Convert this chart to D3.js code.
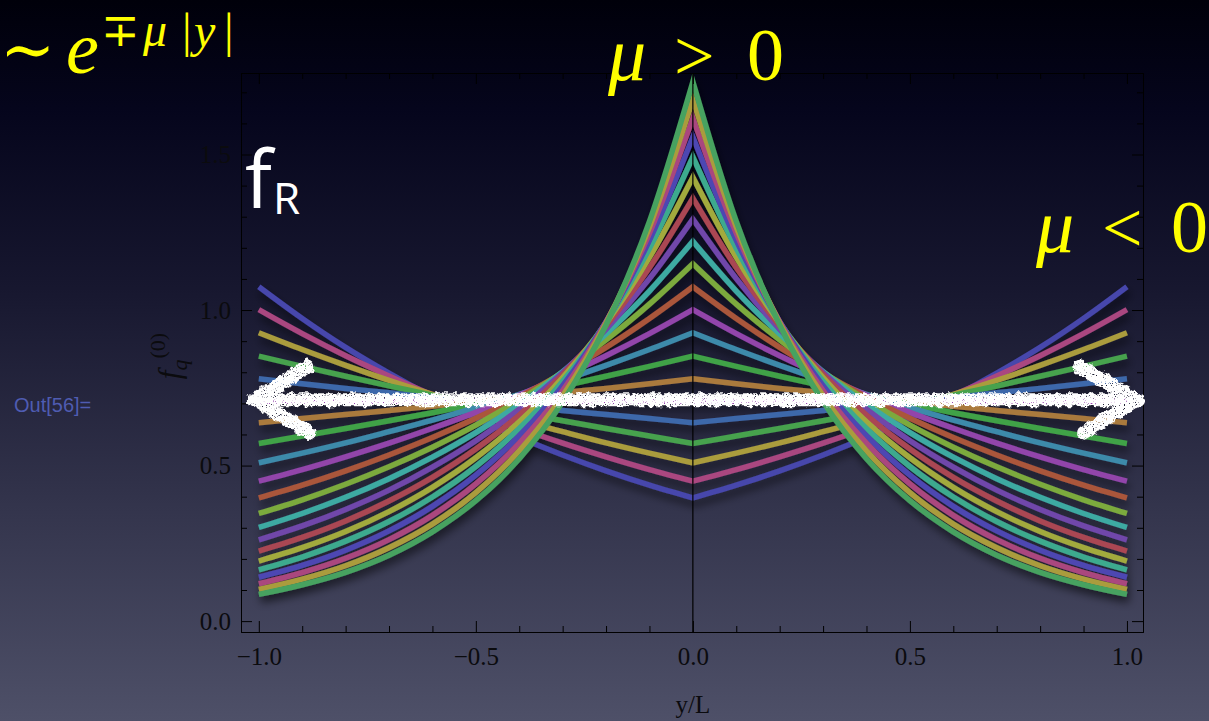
<!DOCTYPE html>
<html><head><meta charset="utf-8">
<script src="https://cdn.jsdelivr.net/npm/d3@7"></script>
<style>html,body{margin:0;padding:0;background:#000;}svg{display:block}</style>
</head><body>
<svg id="c" width="1209" height="721"></svg>
<script>
// ---------- data ----------
const yPos = [0.0, 0.1, 0.2, 0.3, 0.4, 0.5, 0.6, 0.7, 0.8, 0.9, 1.0]; // |y/L|
const muLabels = [-1.0,-0.8,-0.6,-0.4,-0.2,0.0,0.2,0.4,0.6,0.8,1.0,1.2,1.4,1.6,1.8,2.0,2.2,2.4,2.6,2.8,3.0];
const f_mu_m10 = [0.396,0.437,0.483,0.534,0.590,0.652,0.721,0.797,0.880,0.973,1.075];
const f_mu_m08 = [0.450,0.487,0.528,0.572,0.620,0.671,0.727,0.788,0.853,0.924,1.001];
const f_mu_m06 = [0.509,0.540,0.573,0.609,0.646,0.686,0.729,0.774,0.822,0.873,0.927];
const f_mu_m04 = [0.571,0.595,0.619,0.644,0.670,0.698,0.726,0.756,0.787,0.819,0.852];
const f_mu_m02 = [0.638,0.651,0.664,0.677,0.691,0.705,0.719,0.734,0.748,0.763,0.779];
const f_mu_00  = [0.707,0.707,0.707,0.707,0.707,0.707,0.707,0.707,0.707,0.707,0.707];
const f_mu_02  = [0.779,0.763,0.748,0.734,0.719,0.705,0.691,0.677,0.664,0.651,0.638];
const f_mu_04  = [0.852,0.819,0.787,0.756,0.726,0.698,0.670,0.644,0.619,0.595,0.571];
const f_mu_06  = [0.927,0.873,0.822,0.774,0.729,0.686,0.646,0.609,0.573,0.540,0.509];
const f_mu_08  = [1.001,0.924,0.853,0.788,0.727,0.671,0.620,0.572,0.528,0.487,0.450];
const f_mu_10  = [1.075,0.973,0.880,0.797,0.721,0.652,0.590,0.534,0.483,0.437,0.396];
const f_mu_12  = [1.149,1.019,0.904,0.801,0.711,0.630,0.559,0.496,0.440,0.390,0.346];
const f_mu_14  = [1.221,1.061,0.923,0.802,0.697,0.606,0.527,0.458,0.398,0.346,0.301];
const f_mu_16  = [1.292,1.101,0.938,0.799,0.681,0.580,0.495,0.421,0.359,0.306,0.261];
const f_mu_18  = [1.360,1.136,0.949,0.793,0.662,0.553,0.462,0.386,0.322,0.269,0.225];
const f_mu_20  = [1.427,1.169,0.957,0.783,0.641,0.525,0.430,0.352,0.288,0.236,0.193];
const f_mu_22  = [1.492,1.198,0.961,0.771,0.619,0.497,0.399,0.320,0.257,0.206,0.165];
const f_mu_24  = [1.556,1.224,0.963,0.757,0.596,0.469,0.369,0.290,0.228,0.179,0.141];
const f_mu_26  = [1.617,1.247,0.961,0.741,0.572,0.441,0.340,0.262,0.202,0.156,0.120];
const f_mu_28  = [1.676,1.267,0.958,0.724,0.547,0.413,0.312,0.236,0.178,0.135,0.102];
const f_mu_30  = [1.734,1.285,0.952,0.705,0.522,0.387,0.287,0.212,0.157,0.117,0.086];
const seriesColors = ["#4646ac","#aa4680","#aa9c3e","#46a24e","#3e68aa","#9848ae","#aa7a3e","#40a246","#3e8aaa","#9244aa",
                      "#aa563a","#7caa3e","#3eaaa2","#7046aa","#aa4652","#a2aa3e","#3eaa8e","#4e46b2","#aa467e","#aa9c3e","#46a260"];
const xTicksMajor = [-1.0, -0.5, 0.0, 0.5, 1.0];
const yTicksMajor = [0.0, 0.5, 1.0, 1.5];
const arrowYValue = 0.712;
const arrowXEnds = [-1.022, 1.035];

const series = [f_mu_m10,f_mu_m08,f_mu_m06,f_mu_m04,f_mu_m02,f_mu_00,f_mu_02,f_mu_04,f_mu_06,f_mu_08,
                f_mu_10,f_mu_12,f_mu_14,f_mu_16,f_mu_18,f_mu_20,f_mu_22,f_mu_24,f_mu_26,f_mu_28,f_mu_30];

// ---------- layout ----------
const svg = d3.select("#c");
const W = 1209, H = 721;
const L = 241, R = 1143, T = 73, B = 632;
const x = d3.scaleLinear().domain([-1.041, 1.037]).range([L, R]);
const y = d3.scaleLinear().domain([-0.035, 1.762]).range([B, T]);

const defs = svg.append("defs");
const bg = defs.append("linearGradient").attr("id","bg").attr("x1",0).attr("y1",0).attr("x2",0).attr("y2",1);
[[0,"#00000a"],[0.15,"#05051c"],[0.4,"#17172f"],[0.7,"#33344c"],[1,"#4e5068"]].forEach(s=>
  bg.append("stop").attr("offset",s[0]).attr("stop-color",s[1]));
const sh = defs.append("filter").attr("id","shadow").attr("x","-10%").attr("y","-10%").attr("width","120%").attr("height","130%");
sh.append("feDropShadow").attr("dx",2).attr("dy",6).attr("stdDeviation",4).attr("flood-color","#000").attr("flood-opacity",0.55);
const ch = defs.append("filter").attr("id","chalk").attr("x","-5%").attr("y","-60%").attr("width","110%").attr("height","220%");
ch.append("feTurbulence").attr("type","fractalNoise").attr("baseFrequency","0.18").attr("numOctaves",2).attr("seed",5).attr("result","n");
ch.append("feDisplacementMap").attr("in","SourceGraphic").attr("in2","n").attr("scale",7)
  .attr("xChannelSelector","R").attr("yChannelSelector","G").attr("result","disp");
ch.append("feTurbulence").attr("type","fractalNoise").attr("baseFrequency","0.9").attr("numOctaves",1).attr("seed",9).attr("result","n2");
ch.append("feColorMatrix").attr("in","n2").attr("type","matrix")
  .attr("values","0 0 0 0 0  0 0 0 0 0  0 0 0 0 0  8 0 0 0 -2.0").attr("result","mask");
ch.append("feComposite").attr("in","disp").attr("in2","mask").attr("operator","in");
defs.append("clipPath").attr("id","plotclip").append("rect").attr("x",L).attr("y",T).attr("width",R-L).attr("height",B-T);

svg.append("rect").attr("width",W).attr("height",H).attr("fill","url(#bg)");

// ---------- curves ----------
const line = d3.line().x(d=>x(d[0])).y(d=>y(d[1])).curve(d3.curveMonotoneX);
function curvePath(vals){
  const left = yPos.map((p,i)=>[-p, vals[i]]).reverse();
  const right = yPos.map((p,i)=>[p, vals[i]]);
  return line(left) + line(right).replace(/^M/, "L");
}
const plotG = svg.append("g").attr("filter","url(#shadow)");
const curvesG = plotG.append("g").attr("clip-path","url(#plotclip)");
curvesG.selectAll("path").data(series).join("path")
  .attr("d", d=>curvePath(d))
  .attr("fill","none")
  .attr("stroke",(d,i)=>seriesColors[i])
  .attr("stroke-width",5.5)
  .attr("stroke-linejoin","miter")
  .attr("stroke-miterlimit",6);

// ---------- frame & axes ----------
const fontTick = "Liberation Serif, Times New Roman, serif";
const minorX = d3.range(-10,11).map(v=>v/10).filter(v=>!xTicksMajor.some(m=>Math.abs(m-v)<1e-9));
const minorY = d3.range(0,18).map(v=>v/10).filter(v=>v<=1.76 && !yTicksMajor.some(m=>Math.abs(m-v)<1e-9));

function styleAxis(g){
  g.selectAll("path.domain").attr("stroke","#000").attr("stroke-width",1);
  g.selectAll(".tick line").attr("stroke","#000").attr("stroke-width",1);
  g.selectAll("text").attr("fill","#0b0b0e").style("font-family",fontTick).style("font-size","25px");
}
const fmt = d3.format(".1f");
const gB = svg.append("g").attr("transform",`translate(0,${B})`)
  .call(d3.axisBottom(x).tickValues(xTicksMajor).tickFormat(fmt).tickSize(-11).tickSizeOuter(0).tickPadding(15));
styleAxis(gB);
const gBm = svg.append("g").attr("transform",`translate(0,${B})`)
  .call(d3.axisBottom(x).tickValues(minorX).tickFormat("").tickSize(-6).tickSizeOuter(0));
styleAxis(gBm);
const gT = svg.append("g").attr("transform",`translate(0,${T})`)
  .call(d3.axisTop(x).tickValues(xTicksMajor).tickFormat("").tickSize(-11).tickSizeOuter(0));
styleAxis(gT);
const gTm = svg.append("g").attr("transform",`translate(0,${T})`)
  .call(d3.axisTop(x).tickValues(minorX).tickFormat("").tickSize(-6).tickSizeOuter(0));
styleAxis(gTm);
const gL = svg.append("g").attr("transform",`translate(${L},0)`)
  .call(d3.axisLeft(y).tickValues(yTicksMajor).tickFormat(fmt).tickSize(-11).tickSizeOuter(0).tickPadding(10));
styleAxis(gL);
const gLm = svg.append("g").attr("transform",`translate(${L},0)`)
  .call(d3.axisLeft(y).tickValues(minorY).tickFormat("").tickSize(-6).tickSizeOuter(0));
styleAxis(gLm);
const gR = svg.append("g").attr("transform",`translate(${R},0)`)
  .call(d3.axisRight(y).tickValues(yTicksMajor).tickFormat("").tickSize(-11).tickSizeOuter(0));
styleAxis(gR);
const gRm = svg.append("g").attr("transform",`translate(${R},0)`)
  .call(d3.axisRight(y).tickValues(minorY).tickFormat("").tickSize(-6).tickSizeOuter(0));
styleAxis(gRm);
svg.append("line").attr("x1",x(0)).attr("x2",x(0)).attr("y1",T).attr("y2",B)
  .attr("stroke","#000").attr("stroke-width",1.2);

// axis labels
svg.append("text").attr("x",x(0)).attr("y",713).attr("text-anchor","middle")
  .style("font-family",fontTick).style("font-size","25px").attr("fill","#0b0b0e").text("y/L");
const yl = svg.append("text").attr("transform","translate(180,356) rotate(-90)").attr("text-anchor","middle")
  .style("font-family",fontTick).style("font-size","31px").attr("fill","#0b0b0e");
yl.append("tspan").style("font-style","italic").text("f");
yl.append("tspan").style("font-style","italic").style("font-size","22px").attr("dy",7).text("q");
yl.append("tspan").style("font-size","22px").attr("dy",-22).attr("dx",1).text("(0)");

// Out label
svg.append("text").attr("x",14).attr("y",412).style("font-family","Liberation Sans, Arial, sans-serif")
  .style("font-size","20px").attr("fill","#4f5cb2").text("Out[56]=");

// ---------- chalk arrow ----------
const ay = y(arrowYValue);
const ax0 = x(arrowXEnds[0]), ax1 = x(arrowXEnds[1]);
const arrowG = svg.append("g").attr("filter","url(#chalk)").attr("stroke","#fff").attr("fill","none")
  .attr("stroke-linecap","round").attr("stroke-linejoin","round");
arrowG.append("line").attr("x1",ax0+4).attr("x2",ax1-4).attr("y1",ay).attr("y2",ay).attr("stroke-width",13);
arrowG.append("path").attr("stroke-width",14)
  .attr("d",`M${ax0+58},${ay-33} L${ax0+6},${ay} L${ax0+60},${ay+33}`);
arrowG.append("path").attr("stroke-width",14)
  .attr("d",`M${ax1-62},${ay-33} L${ax1-6},${ay} L${ax1-58},${ay+33}`);

// ---------- yellow annotations ----------
const yellow = "#ffff00";
const serif = "Liberation Serif, DejaVu Serif, serif";
function addText(xp, yp, txt, size, italic, fam, color){
  return svg.append("text").attr("x",xp).attr("y",yp).style("font-family",fam||serif)
    .style("font-size",size+"px").style("font-style",italic?"italic":"normal")
    .attr("fill",color||yellow).text(txt);
}
// ~ e^{∓μ|y|}
addText(0, 72, "\u223C", 66, false);
addText(66, 73, "e", 74, true);
addText(101, 46, "\u2213", 46, false, "Liberation Serif, DejaVu Serif, serif");
addText(143, 46, "\u03BC", 48, true);
addText(182, 47, "|", 48, false);
addText(194, 47, "y", 48, true);
addText(224, 47, "|", 48, false);
// μ > 0
addText(608, 80, "\u03BC", 76, true);
addText(674, 80, ">", 72, false);
addText(747, 80, "0", 74, false);
// μ < 0
addText(1036, 252, "\u03BC", 76, true);
addText(1102, 252, "<", 72, false);
addText(1171, 252, "0", 74, false);

// f_R
addText(245, 208, "f", 80, false, "Open Sans, Noto Sans, sans-serif", "#ffffff");
addText(273, 214, "R", 44, false, "Open Sans, Noto Sans, sans-serif", "#ffffff");
</script>
</body></html>
